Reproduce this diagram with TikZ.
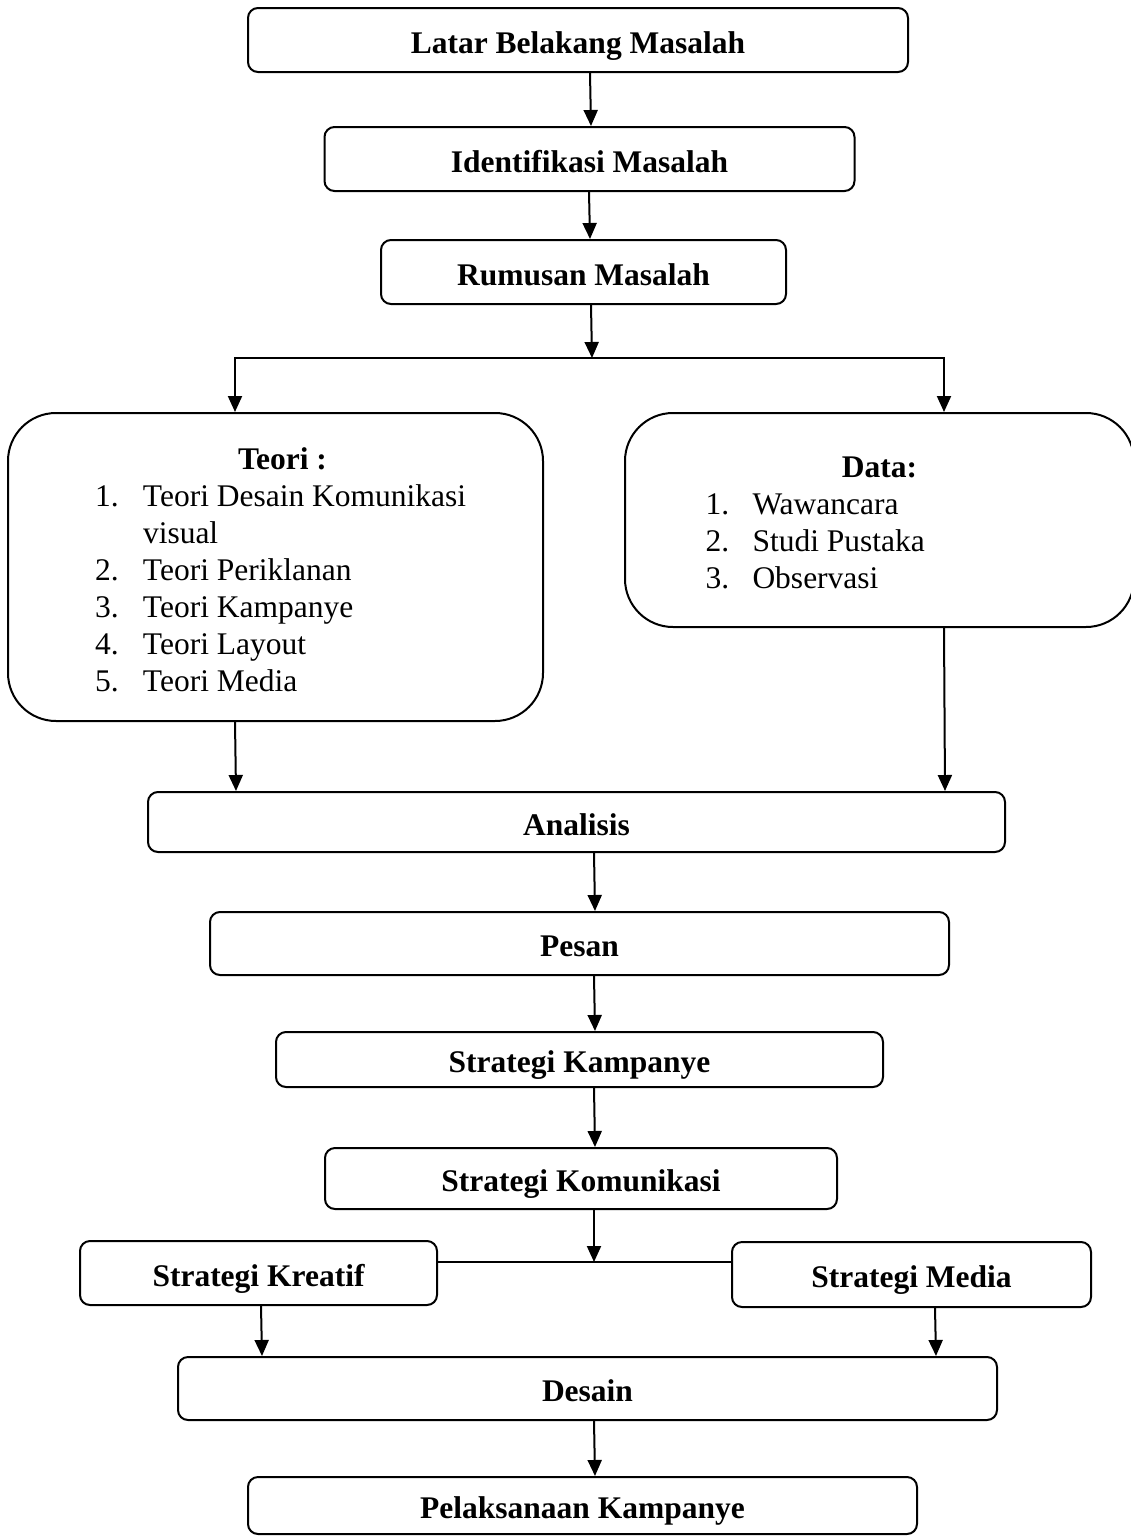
\documentclass[tikz,border=0pt]{standalone}
\usepackage{fontspec}
\setmainfont{Liberation Serif}
\usetikzlibrary{arrows.meta}
\begin{document}
\begin{tikzpicture}[x=1pt,y=-1pt,
  every node/.style={font=\fontsize{31.5}{37}\selectfont},
  box/.style={draw, line width=2pt, rounded corners=10pt, inner sep=0pt,
    text height=26pt, text depth=0pt,
    font=\fontsize{31.5}{37}\selectfont\bfseries},
  bigbox/.style={draw, line width=2pt, rounded corners=48pt, inner sep=0pt},
  arr/.style={line width=2pt, -{Triangle[length=16pt,width=14pt]}},
  link/.style={line width=1.6pt}]
\useasboundingbox (0,0) rectangle (1130,1537);

\node[box, minimum width=660pt, minimum height=64pt] (latar) at (578,40) {Latar Belakang Masalah};
\node[box, minimum width=530pt, minimum height=64pt] (ident) at (589.5,159) {Identifikasi Masalah};
\node[box, minimum width=405pt, minimum height=64pt] (rumusan) at (583.5,272) {Rumusan Masalah};

\node[bigbox, minimum width=535pt, minimum height=308pt] (teori) at (275.5,567)
  {\hspace*{14pt}\parbox{375pt}{\vspace*{5pt}\centering\textbf{Teori :}\par\raggedright
   \makebox[48pt][l]{1.}Teori Desain Komunikasi\par
   \hspace*{48pt}visual\par
   \makebox[48pt][l]{2.}Teori Periklanan\par
   \makebox[48pt][l]{3.}Teori Kampanye\par
   \makebox[48pt][l]{4.}Teori Layout\par
   \makebox[48pt][l]{5.}Teori Media}};

\node[bigbox, minimum width=509pt, minimum height=214pt] (data) at (879.5,520)
  {\parbox{348pt}{\vspace*{6pt}\centering\textbf{Data:}\par\raggedright
   \makebox[47pt][l]{1.}Wawancara\par
   \makebox[47pt][l]{2.}Studi Pustaka\par
   \makebox[47pt][l]{3.}Observasi}};

\node[box, minimum width=857pt, minimum height=60pt] (analisis) at (576.5,822) {Analisis};
\node[box, minimum width=739pt, minimum height=63pt] (pesan) at (579.5,943.5) {Pesan};
\node[box, minimum width=607pt, minimum height=55pt] (kampanye) at (579.5,1059.5) {Strategi Kampanye};
\node[box, minimum width=512pt, minimum height=61pt] (komunikasi) at (581,1178.5) {Strategi Komunikasi};
\node[box, minimum width=357pt, minimum height=64pt] (kreatif) at (258.5,1273) {Strategi Kreatif};
\node[box, minimum width=359pt, minimum height=65pt] (media) at (911.5,1274.5) {Strategi Media};
\node[box, minimum width=819pt, minimum height=63pt] (desain) at (587.5,1388.5) {Desain};
\node[box, minimum width=669pt, minimum height=57pt] (pelaksanaan) at (582.5,1505.5) {Pelaksanaan Kampanye};

\coordinate (split1) at (592,358);
\coordinate (split2) at (594,1262);

\draw[arr] (latar.south -| 590,0) -- (ident.north -| 591,0);
\draw[arr] (ident.south -| 589,0) -- (rumusan.north -| 590,0);
\draw[arr] (rumusan.south -| 591,0) -- (split1);
\draw[arr] (split1) -| (teori.north -| 235,0);
\draw[arr] (split1) -| (data.north -| 944,0);
\draw[arr] (teori.south -| 235,0) -- (analisis.north -| 236,0);
\draw[arr] (data.south -| 944,0) -- (analisis.north -| 945,0);
\draw[arr] (analisis.south -| 594,0) -- (pesan.north -| 595,0);
\draw[arr] (pesan.south -| 594,0) -- (kampanye.north -| 595,0);
\draw[arr] (kampanye.south -| 594,0) -- (komunikasi.north -| 595,0);
\draw[arr] (komunikasi.south -| 594,0) -- (split2);
\draw[link] (kreatif.east |- split2) -- (media.west |- split2);
\draw[arr] (kreatif.south -| 261,0) -- (desain.north -| 262,0);
\draw[arr] (media.south -| 935,0) -- (desain.north -| 936,0);
\draw[arr] (desain.south -| 594,0) -- (pelaksanaan.north -| 595,0);
\end{tikzpicture}
\end{document}
